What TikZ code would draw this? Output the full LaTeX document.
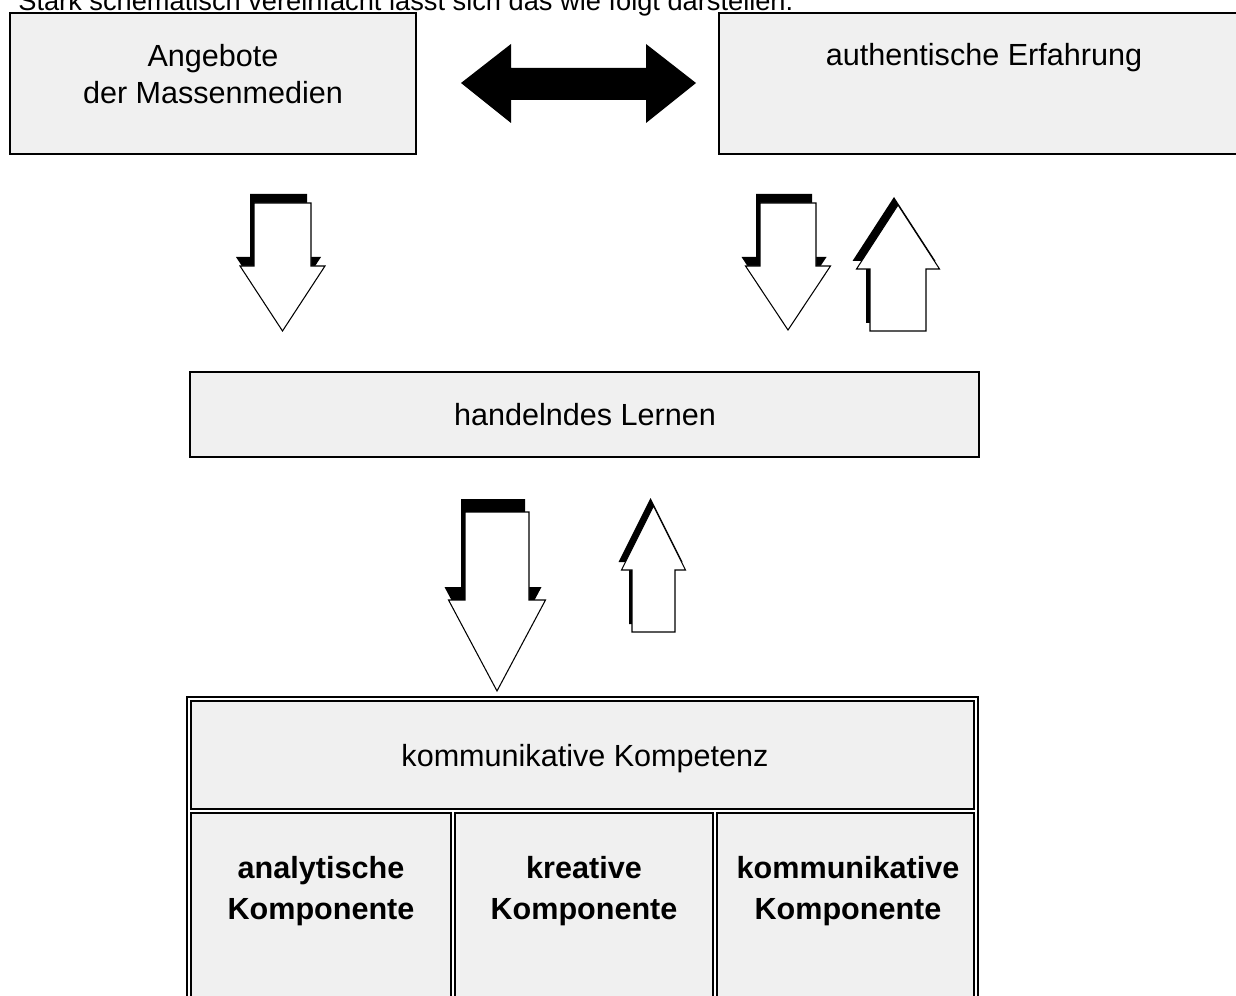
\documentclass[tikz,border=0pt]{standalone}
\usepackage{fontspec}
\setmainfont{Liberation Sans}
\definecolor{boxgray}{HTML}{F0F0F0}
% block arrows: x, y top, shaft half width, head half width, y head base, y tip
\newcommand{\blockdown}[6]{(#1-#3,#2) -- (#1+#3,#2) -- (#1+#3,#5) -- (#1+#4,#5) -- (#1,#6) -- (#1-#4,#5) -- (#1-#3,#5) -- cycle}
% x, y bottom, shaft half width, head half width, y head base, y apex
\newcommand{\blockup}[6]{(#1-#3,#2) -- (#1+#3,#2) -- (#1+#3,#5) -- (#1+#4,#5) -- (#1,#6) -- (#1-#4,#5) -- (#1-#3,#5) -- cycle}
\begin{document}
\begin{tikzpicture}[x=0.02cm, y=-0.02cm,
    font=\fontsize{17.4}{20.9}\selectfont,
    box/.style={draw=black, fill=boxgray, line width=1.2pt},
    cell/.style={draw=black, fill=boxgray, line width=1.1pt},
    label/.style={inner sep=0pt, align=center},
    hollow/.style={draw=black, fill=white, line width=0.6pt},
    shade/.style={fill=black}]
    \useasboundingbox (0,0) rectangle (1236,996);
    \clip (0,0) rectangle (1236,996);

    \node[label, anchor=base west, font=\fontsize{15.5}{18}\selectfont] (intro) at (18,11)
        {Stark schematisch vereinfacht lässt sich das wie folgt darstellen.};

    % upper boxes
    \draw[box] (10,13) rectangle (416,154);
    \node[label, anchor=north] (medien) at (213,44) {Angebote\\der Massenmedien};
    \draw[box] (719,13) rectangle (1250,154);
    \node[label, anchor=base] (erfahrung) at (984,66) {authentische Erfahrung};

    % double arrow
    \fill[black] (461,83) -- (511,44) -- (511,68) -- (646,68) -- (646,44) -- (696,83)
        -- (646,123) -- (646,100) -- (511,100) -- (511,123) -- cycle;

    % arrows to the middle box
    \fill[shade, shift={(-4,-9)}] \blockdown{282.5}{203}{28.5}{42.5}{266}{331};
    \draw[hollow] \blockdown{282.5}{203}{28.5}{42.5}{266}{331};
    \fill[shade, shift={(-4,-9)}] \blockdown{788}{203}{28}{42.5}{266}{330};
    \draw[hollow] \blockdown{788}{203}{28}{42.5}{266}{330};
    \fill[shade, shift={(-4,-8)}] \blockup{898}{331}{28}{41.5}{269}{205};
    \draw[hollow] \blockup{898}{331}{28}{41.5}{269}{205};

    % middle box
    \draw[cell] (190,372) rectangle (979,457);
    \node[label, anchor=base] (lernen) at (585,425) {handelndes Lernen};

    % arrows to the lower box
    \fill[shade, shift={(-4,-13)}] \blockdown{497}{512}{32}{48.5}{600}{691};
    \draw[hollow] \blockdown{497}{512}{32}{48.5}{600}{691};
    \fill[shade, shift={(-3,-8)}] \blockup{653.5}{632}{21.5}{32}{570}{506};
    \draw[hollow] \blockup{653.5}{632}{21.5}{32}{570}{506};

    % lower box
    \draw[fill=white, line width=1.2pt] (187,697) rectangle (978,1010);
    \draw[cell] (191,701) rectangle (974,809);
    \node[label, anchor=base] (kompetenz) at (585,766) {kommunikative Kompetenz};
    \draw[cell] (191,813) rectangle (451,1010);
    \draw[cell] (455,813) rectangle (713,1010);
    \draw[cell] (717,813) rectangle (974,1010);
    \node[label, anchor=north, font=\fontsize{17.4}{23.5}\selectfont\bfseries] (analytisch) at (321,856) {analytische\\Komponente};
    \node[label, anchor=north, font=\fontsize{17.4}{23.5}\selectfont\bfseries] (kreativ) at (584,856) {kreative\\Komponente};
    \node[label, anchor=north, font=\fontsize{17.4}{23.5}\selectfont\bfseries] (kommunikativ) at (848,856) {kommunikative\\Komponente};
\end{tikzpicture}
\end{document}
